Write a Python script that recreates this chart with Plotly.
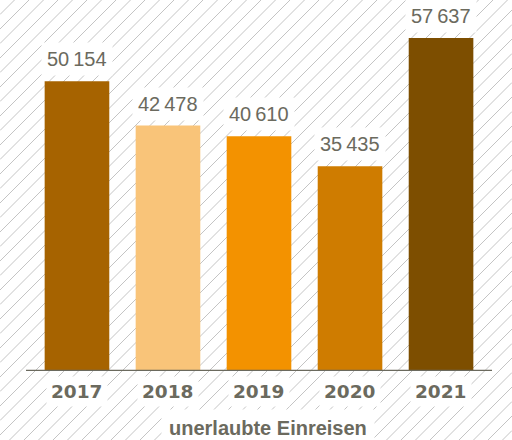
import plotly.graph_objects as go

years = ["2017", "2018", "2019", "2020", "2021"]
values = [50154, 42478, 40610, 35435, 57637]
colors = ["#A66300", "#F9C479", "#F39200", "#CF7C00", "#7D4E00"]
axis_title = "unerlaubte Einreisen"

W, H = 512, 440
ML, MR, MT, MB = 26, 20, 24, 69
PW, PH = W - ML - MR, H - MT - MB
TEXT = "#6b6a5e"

def fmt(v):
    s = f"{v:,}"
    return s.replace(",", "\u2009")

fig = go.Figure()
fig.add_trace(go.Bar(
    x=years, y=values, marker=dict(color=colors, line=dict(width=0)),
    width=0.71, hoverinfo="skip",
))

# decorative hatch background (pixel -> paper)
def px2paper(px, py):
    return (px - ML) / PW, (H - MB - py) / PH

shapes = []
step = 14.5
c = -step
while c < W + H + step:
    x0, y0 = max(0, c - H), min(H, c)
    x1, y1 = min(W, c), max(0, c - W)
    if x0 <= x1:
        a = px2paper(x0, y0)
        b = px2paper(x1, y1)
        shapes.append(dict(type="line", xref="paper", yref="paper",
                           x0=a[0], y0=a[1], x1=b[0], y1=b[1],
                           line=dict(color="#c4c4c4", width=1), layer="below"))
    c += step

# baseline
shapes.append(dict(type="line", xref="paper", yref="y", x0=0, x1=1, y0=0, y1=0,
                   line=dict(color="#6b6a5e", width=2.5), layer="above"))

annotations = []
for i, (yr, v) in enumerate(zip(years, values)):
    annotations.append(dict(x=i, y=v, xref="x", yref="y", text=fmt(v),
                            showarrow=False, yanchor="bottom", yshift=5,
                            font=dict(family="Liberation Sans, Arial", size=20, color=TEXT),
                            bgcolor="white", borderpad=5))
    annotations.append(dict(x=i, y=0, xref="x", yref="y", text=f"<b>{yr}</b>",
                            showarrow=False, yanchor="top", yshift=-5,
                            font=dict(family="DejaVu Sans", size=18.5, color=TEXT),
                            bgcolor="white", borderpad=4))
annotations.append(dict(x=(268 - ML) / PW, y=0, xref="paper", yref="paper",
                        text=f"<b>{axis_title}</b>", showarrow=False,
                        yanchor="middle", yshift=-57,
                        font=dict(family="Liberation Sans, Arial", size=20, color=TEXT),
                        bgcolor="white", borderpad=7))

fig.update_layout(
    width=W, height=H, margin=dict(l=ML, r=MR, t=MT, b=MB),
    paper_bgcolor="white", plot_bgcolor="rgba(0,0,0,0)",
    showlegend=False, bargap=0.29,
    xaxis=dict(type="category", range=[-0.56, 4.56], showticklabels=False, showgrid=False,
               zeroline=False, showline=False, ticks=""),
    yaxis=dict(range=[0, 60050], showticklabels=False, showgrid=False, zeroline=False,
               showline=False, ticks=""),
    shapes=shapes, annotations=annotations,
)

fig.write_html("out.html", config={"displayModeBar": False},
               post_script="document.body.style.margin='0';")
